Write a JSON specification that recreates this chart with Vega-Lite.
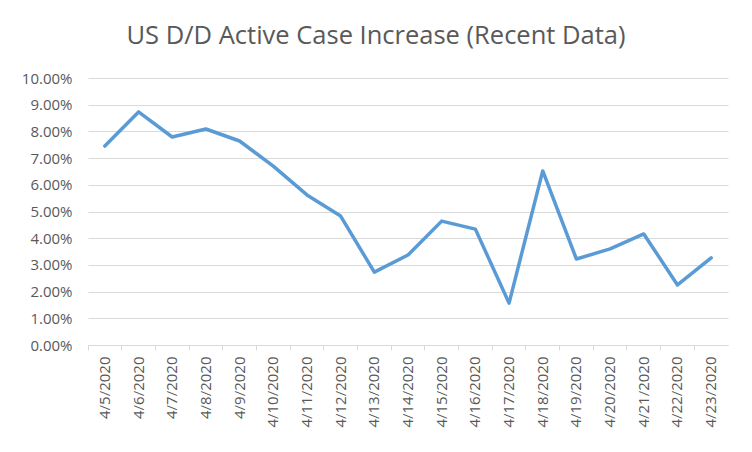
{
  "$schema": "https://vega.github.io/schema/vega-lite/v6.json",
  "width": 640,
  "height": 267,
  "autosize": {"type": "none"},
  "padding": {"left": 88, "top": 78, "right": 24, "bottom": 107},
  "background": "white",
  "title": {
    "text": "US D/D Active Case Increase (Recent Data)",
    "fontSize": 25.5,
    "font": "Open Sans",
    "fontWeight": "normal",
    "color": "#595959",
    "anchor": "middle",
    "dx": -32,
    "offset": 22
  },
  "data": {
    "values": [
      {"date": "4/5/2020", "value": 0.0745},
      {"date": "4/6/2020", "value": 0.0873},
      {"date": "4/7/2020", "value": 0.0779},
      {"date": "4/8/2020", "value": 0.0809},
      {"date": "4/9/2020", "value": 0.0764},
      {"date": "4/10/2020", "value": 0.0670},
      {"date": "4/11/2020", "value": 0.0562},
      {"date": "4/12/2020", "value": 0.0483},
      {"date": "4/13/2020", "value": 0.0273},
      {"date": "4/14/2020", "value": 0.0337},
      {"date": "4/15/2020", "value": 0.0464},
      {"date": "4/16/2020", "value": 0.0434},
      {"date": "4/17/2020", "value": 0.0157},
      {"date": "4/18/2020", "value": 0.0652},
      {"date": "4/19/2020", "value": 0.0322},
      {"date": "4/20/2020", "value": 0.0360},
      {"date": "4/21/2020", "value": 0.0416},
      {"date": "4/22/2020", "value": 0.0225},
      {"date": "4/23/2020", "value": 0.0326}
    ]
  },
  "mark": {"type": "line", "color": "#5B9BD5", "strokeWidth": 3.5, "strokeCap": "round", "strokeJoin": "round"},
  "encoding": {
    "x": {
      "field": "date",
      "type": "ordinal",
      "sort": null,
      "scale": {"type": "band", "paddingInner": 0, "paddingOuter": 0},
      "axis": {
        "title": null,
        "labelAngle": 270,
        "labelAlign": "right",
        "labelBaseline": "middle",
        "labelFont": "Open Sans",
        "labelFontSize": 15,
        "labelColor": "#595959",
        "labelPadding": 6,
        "bandPosition": 0,
        "domainColor": "#d9d9d9",
        "tickColor": "#d9d9d9",
        "tickSize": 5,
        "grid": false,
        "labelFlush": false,
        "labelOverlap": false
      }
    },
    "y": {
      "field": "value",
      "type": "quantitative",
      "scale": {"domain": [0, 0.1], "nice": false},
      "axis": {
        "title": null,
        "format": ".2%",
        "values": [0, 0.01, 0.02, 0.03, 0.04, 0.05, 0.06, 0.07, 0.08, 0.09, 0.1],
        "labelOverlap": false,
        "domain": false,
        "ticks": false,
        "labelFont": "Open Sans",
        "labelFontSize": 15,
        "labelColor": "#595959",
        "labelPadding": 16,
        "gridColor": "#d9d9d9",
        "gridWidth": 1
      }
    }
  },
  "config": {"view": {"stroke": null}}
}
